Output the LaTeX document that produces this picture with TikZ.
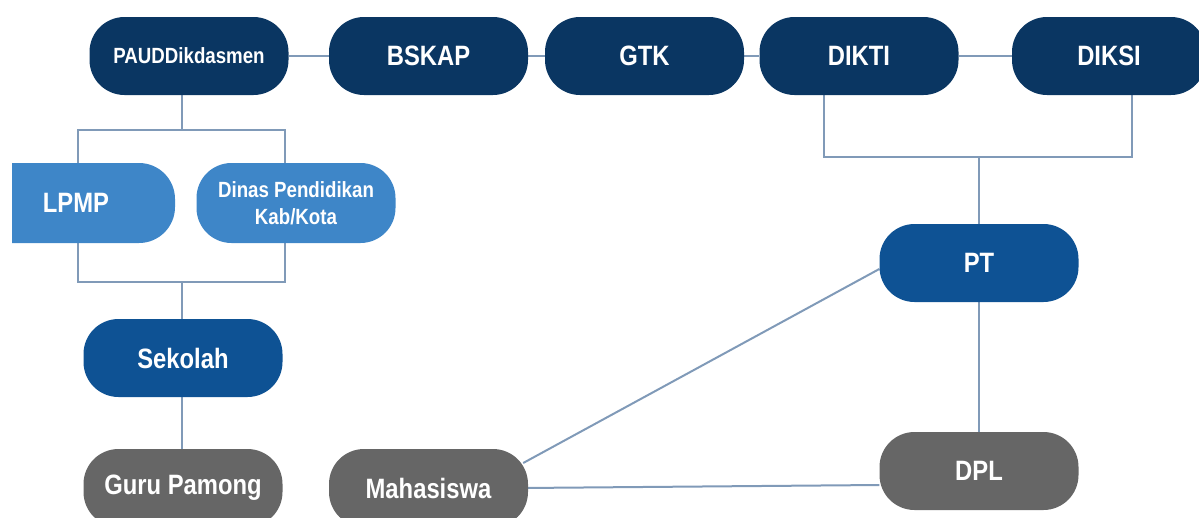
\documentclass[tikz,border=0pt]{standalone}
\usepackage{fontspec}
\setmainfont{Liberation Sans}[FakeStretch=0.85]
\usetikzlibrary{calc,backgrounds}
\definecolor{navy}{RGB}{10,54,98}
\definecolor{lblue}{RGB}{62,134,200}
\definecolor{mblue}{RGB}{14,82,148}
\definecolor{dgray}{RGB}{102,102,102}
\definecolor{linec}{RGB}{128,154,184}
\tikzset{
  box/.style={rectangle, rounded corners=35pt, minimum width=199pt, minimum height=78pt,
    inner sep=0pt, text=white, font=\bfseries\fontsize{28}{30}\selectfont, align=center},
  navybox/.style={box, fill=navy},
  lbox/.style={box, fill=lblue},
  mbox/.style={box, fill=mblue},
  gbox/.style={box, fill=dgray},
  conn/.style={draw=linec, line width=2pt},
}
\begin{document}
\begin{tikzpicture}[x=1pt,y=-1pt]
\useasboundingbox (0,0) rectangle (1199,517);
% top row
\node[navybox, font=\bfseries\fontsize{22}{24}\selectfont] (paud) at (189,56) {PAUDDikdasmen};
\node[navybox] (bskap) at (428.5,56) {BSKAP};
\node[navybox] (gtk) at (644.5,56) {GTK};
\node[navybox] (dikti) at (859,56) {DIKTI};
\node[navybox, minimum width=194pt] (diksi) at (1109,56) {DIKSI};
% second row
\fill[lblue] (12,163) -- (139,163) arc[start angle=90, end angle=0, radius=36pt]
  -- (175,207) arc[start angle=0, end angle=-90, radius=36pt] -- (12,243) -- cycle;
\node[text=white, font=\bfseries\fontsize{28}{30}\selectfont] (lpmp) at (76,203) {LPMP};
\node[lbox, minimum height=80pt, font=\bfseries\fontsize{22}{27}\selectfont] (dinas) at (296,203) {Dinas Pendidikan\\Kab/Kota};
% lower left
\node[mbox] (sekolah) at (183,358) {Sekolah};
\node[gbox] (guru) at (183,488) {Guru Pamong};
\node[gbox] (maha) at (428.5,488) {Mahasiswa};
% right
\node[mbox] (pt) at (979,263) {PT};
\node[gbox] (dpl) at (979,471) {DPL};
% junction coordinates
\coordinate (jA) at (182,130);
\coordinate (jAl) at (78,130);
\coordinate (jAr) at (285,130);
\coordinate (jB) at (182,282);
\coordinate (jBl) at (78,282);
\coordinate (jBr) at (285,282);
\coordinate (jC) at (979,157);
\coordinate (jCl) at (824,157);
\coordinate (jCr) at (1132,157);
\begin{scope}[on background layer]
\draw[conn] (paud.east) -- (bskap.west);
\draw[conn] (bskap.east) -- (gtk.west);
\draw[conn] (gtk.east) -- (dikti.west);
\draw[conn] (dikti.east) -- (diksi.west);
\draw[conn] (paud.south -| jA) -- (jA);
\draw[conn] (jAl |- lpmp.center) ++(0,-40) -- (jAl) -- (jAr) -- (jAr |- dinas.north);
\draw[conn] (jAl |- lpmp.center) ++(0,40) -- (jBl) -- (jBr) -- (jBr |- dinas.south);
\draw[conn] (jB) -- (sekolah.north -| jB);
\draw[conn] (sekolah.south -| jB) -- (guru.north -| jB);
\draw[conn] (dikti.south -| jCl) -- (jCl) -- (jCr) -- (diksi.south -| jCr);
\draw[conn] (jC) -- (pt.north);
\draw[conn] (pt.south) -- (dpl.north);
\draw[conn] ($(maha.east)+(-5,-25)$) -- ($(pt.west)+(0,6)$);
\draw[conn] ($(maha.east)+(-5,0)$) -- ($(dpl.west)+(0,14)$);
\end{scope}
\end{tikzpicture}
\end{document}
